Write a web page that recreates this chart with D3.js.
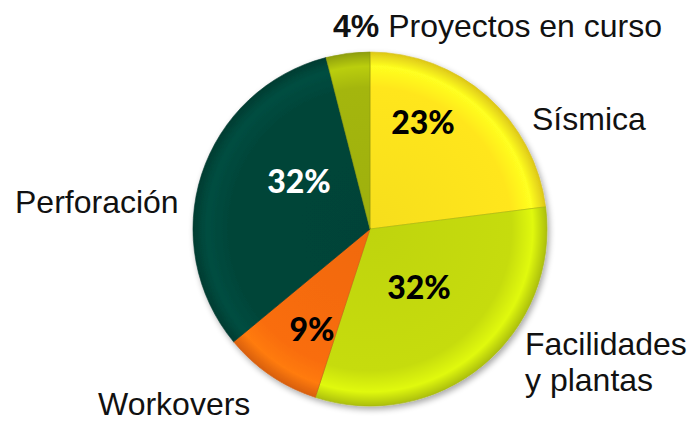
<!DOCTYPE html>
<html>
<head>
<meta charset="utf-8">
<script src="https://cdn.jsdelivr.net/npm/d3@7"></script>
<style>
  body { margin: 0; background: #fff; }
  svg { display: block; }
</style>
</head>
<body>
<div class="chart"></div>
<script>
var svgWidth = 692;
var svgHeight = 422;

// data
var categories = ["Sísmica", "Facilidades y plantas", "Workovers", "Perforación", "Proyectos en curso"];
var shares = [23, 32, 9, 32, 4];
var pctLabels = ["23%", "32%", "9%", "32%", "4%"];
var colors = ["#FFE61C", "#C6DC0C", "#F96D0C", "#034539", "#A4B60C"];
var pctColors = ["#000", "#000", "#000", "#fff", "#000"];

var cx = 370, cy = 229, radius = 177;

var svg = d3.select(".chart")
  .append("svg")
  .attr("width", svgWidth)
  .attr("height", svgHeight);

var defs = svg.append("defs");

// soft shadow
var shadow = defs.append("filter").attr("id", "shadow")
  .attr("x", "-10%").attr("y", "-10%").attr("width", "120%").attr("height", "120%");
shadow.append("feGaussianBlur").attr("in", "SourceAlpha").attr("stdDeviation", 3);
shadow.append("feOffset").attr("dx", 2).attr("dy", 3).attr("result", "off");
shadow.append("feComponentTransfer").append("feFuncA").attr("type", "linear").attr("slope", 0.35);
var merge = shadow.append("feMerge");
merge.append("feMergeNode");
merge.append("feMergeNode").attr("in", "SourceGraphic");

// one gradient per slice, bevel look near the rim
colors.forEach(function(c, i) {
  var g = defs.append("radialGradient")
    .attr("id", "grad" + i)
    .attr("gradientUnits", "userSpaceOnUse")
    .attr("cx", 0).attr("cy", 0).attr("r", radius);
  var base = d3.color(c);
  g.append("stop").attr("offset", "0%").attr("stop-color", base.darker(0.1));
  g.append("stop").attr("offset", "80%").attr("stop-color", base);
  g.append("stop").attr("offset", "92%").attr("stop-color", base.brighter(0.35));
  g.append("stop").attr("offset", "100%").attr("stop-color", base.darker(0.4));
});

var pie = d3.pie().sort(null).value(function(d) { return d; });
var arc = d3.arc().innerRadius(0).outerRadius(radius);
var arcs = pie(shares);

var pieGroup = svg.append("g")
  .attr("transform", `translate(${cx}, ${cy})`)
  .attr("filter", "url(#shadow)");

pieGroup.selectAll("path.slice")
  .data(arcs)
  .enter()
  .append("path")
  .attr("class", "slice")
  .attr("d", arc)
  .attr("fill", function(d, i) { return "url(#grad" + i + ")"; })
  .attr("stroke", function(d, i) { return d3.color(colors[i]).darker(0.5); })
  .attr("stroke-width", 1)
  .attr("stroke-opacity", 0.6);

// percent labels inside slices (4% sits outside with its category)
var pctPos = [
  { x: 423, y: 134 },
  { x: 419, y: 299 },
  { x: 312, y: 341 },
  { x: 299, y: 193 }
];

svg.selectAll("text.pct")
  .data(arcs.slice(0, 4))
  .enter()
  .append("text")
  .attr("class", "pct")
  .attr("x", function(d, i) { return pctPos[i].x; })
  .attr("y", function(d, i) { return pctPos[i].y; })
  .attr("text-anchor", "middle")
  .style("font-family", "Lato, 'Open Sans', sans-serif")
  .style("font-weight", "900")
  .style("font-size", "32px")
  .style("fill", function(d, i) { return pctColors[i]; })
  .text(function(d, i) { return pctLabels[i]; });

// category labels
var labelFont = "'Liberation Sans', Arial, sans-serif";

function catLabel(x, y, lines) {
  var t = svg.append("text")
    .attr("x", x)
    .attr("y", y)
    .style("font-family", labelFont)
    .style("font-size", "32px")
    .style("fill", "#111");
  lines.forEach(function(l, i) {
    t.append("tspan").attr("x", x).attr("dy", i === 0 ? 0 : 36).text(l);
  });
  return t;
}

catLabel(532, 130, [categories[0]]);
catLabel(525, 355, ["Facilidades", "y plantas"]);
catLabel(98, 415, [categories[2]]);
catLabel(15, 213, [categories[3]]);

var topLabel = svg.append("text")
  .attr("x", 333)
  .attr("y", 37)
  .style("font-family", labelFont)
  .style("font-size", "32px")
  .style("fill", "#111");
topLabel.append("tspan").style("font-weight", "bold").text(pctLabels[4]);
topLabel.append("tspan").text(" " + categories[4]);
</script>
</body>
</html>
